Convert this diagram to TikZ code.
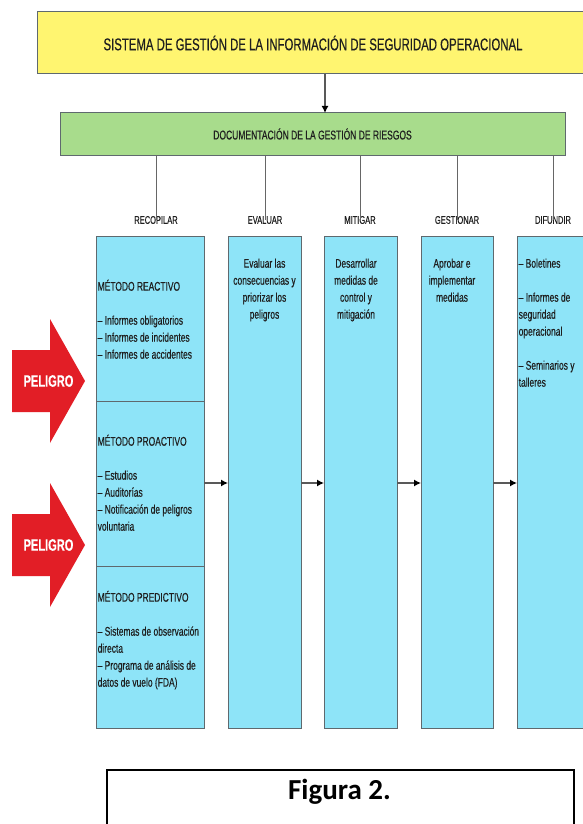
\documentclass[tikz,border=0pt]{standalone}
\usepackage{fontspec}
\setmainfont{Liberation Sans}
\newfontfamily\narrowfont{Liberation Sans}[FakeStretch=0.67, FakeBold=0.35]
\newfontfamily\figfont{Carlito}
\usetikzlibrary{arrows.meta}
\definecolor{yellowbox}{RGB}{255,245,112}
\definecolor{greenbox}{RGB}{168,220,140}
\definecolor{cyanbox}{RGB}{142,228,248}
\definecolor{alertred}{RGB}{226,30,38}
\definecolor{boxedge}{RGB}{95,105,110}
\begin{document}
\begin{tikzpicture}[x=1pt,y=-1pt,
  frame/.style={draw=boxedge, line width=1pt, inner sep=0pt, outer sep=0pt},
  colbox/.style={frame, fill=cyanbox, anchor=north west, minimum height=492pt},
  subbox/.style={frame, fill=cyanbox, anchor=north west, minimum width=108pt},
  bodytext/.style={font=\narrowfont\fontsize{12.6}{17}\selectfont, text=black!88, inner sep=0pt, anchor=north west, align=left},
  bodycenter/.style={bodytext, anchor=north, align=center},
  steplabel/.style={font=\narrowfont\fontsize{11.2}{13}\selectfont, text=black!88, inner sep=0pt},
  flow/.style={draw=black!65, line width=1.3pt, -{Latex[length=7pt,width=7pt,color=black]}},
  tie/.style={draw=black!60, line width=0.8pt},
  hazardtext/.style={font=\narrowfont\bfseries\fontsize{16.5}{18}\selectfont, text=white, inner sep=0pt},
]
\clip (0,0) rectangle (583,824);
\fill[white] (0,0) rectangle (583,824);

% top boxes
\node[frame, fill=yellowbox, minimum width=552pt, minimum height=62pt, anchor=north west,
      font=\narrowfont\fontsize{17}{19}\selectfont, text=black!88] (sys) at (37,12)
      {SISTEMA DE GESTIÓN DE LA INFORMACIÓN DE SEGURIDAD OPERACIONAL};
\node[frame, fill=greenbox, minimum width=505pt, minimum height=42pt, anchor=north west,
      font=\narrowfont\fontsize{12.7}{14}\selectfont, text=black!88] (doc) at (60,113)
      {DOCUMENTACIÓN DE LA GESTIÓN DE RIESGOS};
\coordinate (ax) at (325,0);
\draw[flow] (sys.south -| ax) -- (doc.north -| ax);

% step labels
\node[steplabel] (l1) at (156,220) {RECOPILAR};
\node[steplabel] (l2) at (265,220) {EVALUAR};
\node[steplabel] (l3) at (360,220) {MITIGAR};
\node[steplabel] (l4) at (457,220) {GESTIONAR};
\node[steplabel] (l5) at (553,220) {DIFUNDIR};
\foreach \i in {1,...,5} { \draw[tie] (doc.south -| l\i) -- (l\i.center); }

% columns
\node[subbox, minimum height=165pt] (c1a) at (96,236) {};
\node[subbox, minimum height=165pt] (c1b) at (96,401) {};
\node[subbox, minimum height=162pt] (c1c) at (96,566) {};
\node[colbox, minimum width=73pt] (c2) at (228,236) {};
\node[colbox, minimum width=73pt] (c3) at (324,236) {};
\node[colbox, minimum width=72pt] (c4) at (421,236) {};
\node[colbox, minimum width=83pt] (c5) at (517,236) {};

% column texts
\node[bodytext] (t1a) at (97.5,278.6) {\strut MÉTODO REACTIVO\\[17pt]
  – Informes obligatorios\\ – Informes de incidentes\\ – Informes de accidentes};
\node[bodytext] (t1b) at (97.5,433.6) {\strut MÉTODO PROACTIVO\\[17pt]
  – Estudios\\ – Auditorías\\ – Notificación de peligros\\ voluntaria};
\node[bodytext] (t1c) at (97.5,589.6) {\strut MÉTODO PREDICTIVO\\[17pt]
  – Sistemas de observación\\ directa\\ – Programa de análisis de\\ datos de vuelo (FDA)};
\node[bodycenter] (t2) at (264.5,255.6) {\strut Evaluar las\\ consecuencias y\\ priorizar los\\ peligros};
\node[bodycenter] (t3) at (356,255.6) {\strut Desarrollar\\ medidas de\\ control y\\ mitigación};
\node[bodycenter] (t4) at (452,255.6) {\strut Aprobar e\\ implementar\\ medidas};
\node[bodytext] (t5) at (518.5,255.6) {\strut – Boletines\\[17pt] – Informes de\\ seguridad\\ operacional\\[17pt]
  – Seminarios y\\ talleres};

% flow arrows
\coordinate (ay) at (0,483);
\draw[flow] (c1b.east |- ay) -- (c2.west |- ay);
\draw[flow] (c2.east |- ay) -- (c3.west |- ay);
\draw[flow] (c3.east |- ay) -- (c4.west |- ay);
\draw[flow] (c4.east |- ay) -- (c5.west |- ay);

% hazard arrows
\fill[alertred] (12,350) -- (50,350) -- (50,319) -- (85,381) -- (50,443) -- (50,412) -- (12,412) -- cycle;
\node[hazardtext] (h1) at (48.5,381) {PELIGRO};
\fill[alertred] (12,514) -- (50,514) -- (50,483) -- (85,545) -- (50,607) -- (50,576) -- (12,576) -- cycle;
\node[hazardtext] (h2) at (48.5,545) {PELIGRO};

% caption box
\node[draw=black, line width=1.5pt, minimum width=467pt, minimum height=70pt, anchor=north west, inner sep=0pt] (fig) at (106,769) {};
\node[font=\figfont\bfseries\fontsize{29}{32}\selectfont, anchor=base, inner sep=0pt] (figt) at (339.5,799) {Figura 2.};
\end{tikzpicture}
\end{document}
